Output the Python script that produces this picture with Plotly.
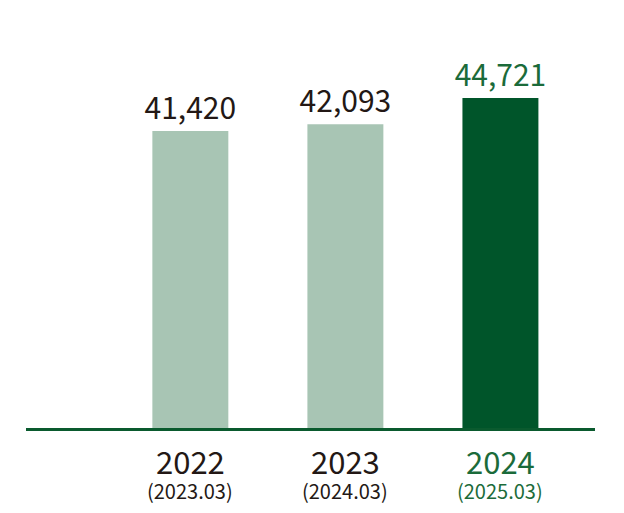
import plotly.graph_objects as go

years = ["2022", "2023", "2024"]
periods = ["(2023.03)", "(2024.03)", "(2025.03)"]
sales = [41420, 42093, 44721]

bar_colors = ["#a8c5b4", "#a8c5b4", "#00552a"]
text_colors = ["#231815", "#231815", "#1b6b3a"]
font = "Noto Sans CJK JP"

fig = go.Figure()
fig.add_trace(go.Bar(
    x=[0, 1, 2], y=sales, width=0.49,
    marker=dict(color=bar_colors, line=dict(width=0)),
    text=[f"{v:,}" for v in sales], textposition="outside",
    textfont=dict(family=font, size=30, color=text_colors),
    constraintext="none", cliponaxis=False, hoverinfo="skip",
))

# category labels under the axis line
for i, (yr, p) in enumerate(zip(years, periods)):
    fig.add_annotation(x=i, y=0, xref="x", yref="paper", text=yr, showarrow=False,
                       yanchor="middle", yshift=-32,
                       font=dict(family=font, size=31, color=text_colors[i]))
    fig.add_annotation(x=i, y=0, xref="x", yref="paper", text=p, showarrow=False,
                       yanchor="middle", yshift=-62,
                       font=dict(family=font, size=20, color=text_colors[i]))

fig.update_layout(
    width=624, height=513,
    margin=dict(l=18, r=37, t=12, b=93),
    plot_bgcolor="white", paper_bgcolor="white",
    showlegend=False,
    xaxis=dict(range=[-1.06, 2.61], showticklabels=False, showgrid=False, zeroline=False,
               showline=True, linecolor="#0a5a2e", linewidth=3, ticks=""),
    yaxis=dict(range=[11750, 52500], visible=False),
)

fig.write_html("out.html")
